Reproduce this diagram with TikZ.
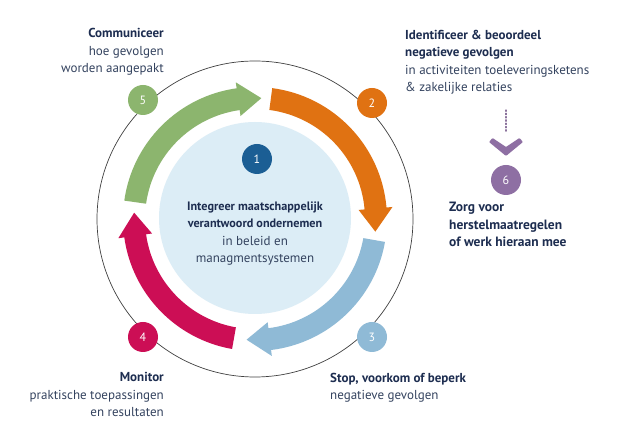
\documentclass[tikz,border=0pt]{standalone}
\usepackage{fontspec}
\setmainfont{PT Sans}
\usetikzlibrary{calc}
\definecolor{cgreen}{HTML}{8CB56E}
\definecolor{corange}{HTML}{E07212}
\definecolor{cblue}{HTML}{8FBAD6}
\definecolor{cred}{HTML}{CC0E55}
\definecolor{cpurple}{HTML}{8E6FA3}
\definecolor{cdisc}{HTML}{DCEDF6}
\definecolor{cnavy}{HTML}{1B5E94}
\definecolor{tbold}{HTML}{1D2D50}
\definecolor{treg}{HTML}{34435F}
\newcommand{\bandarrow}[3]{%
  \pgfmathsetmacro{\bb}{#3+11}%
  \fill[#1] ($(C)+(#2:132)$) arc[start angle=#2, end angle=\bb, radius=132]
    -- ($(C)+(\bb:138)$) -- ($(C)+(#3:121)$) -- ($(C)+(\bb:104)$)
    -- ($(C)+(\bb:110)$) arc[start angle=\bb, end angle=#2, radius=110] -- cycle;}
\begin{document}
\begin{tikzpicture}[x=1pt,y=1pt,
  numc/.style={circle, minimum size=30pt, inner sep=0pt, text=white, font=\fontsize{12}{12}\selectfont},
  txt/.style={inner sep=0pt, font=\fontsize{13}{17.5}\selectfont, text=treg}]
\useasboundingbox[fill=white] (0,0) rectangle (619,447);
\coordinate (C) at (255,228);
% outer thin circle
\draw[black!75, line width=0.7pt] (C) circle[radius=158];
% inner disc
\fill[cdisc] (255,229) circle[radius=96];
% band arrows
\bandarrow{cgreen}{172}{87}
\bandarrow{corange}{82.5}{-6}
\bandarrow{cblue}{-10}{-94}
\bandarrow{cred}{-100}{-183}
% number circles
\node[numc, fill=cnavy] (n1) at (257,288) {1};
\node[numc, fill=corange] (n2) at (372,344) {2};
\node[numc, fill=cblue] (n3) at (372,110) {3};
\node[numc, fill=cred] (n4) at (143,110) {4};
\node[numc, fill=cgreen] (n5) at (143,347) {5};
\node[numc, fill=cpurple] (n6) at (506,267) {6};
% purple dotted connector and chevron
\coordinate (dtop) at (506,337);
\coordinate (dbot) at (506,314);
\draw[cpurple!80!gray, line width=1.3pt, dotted, line cap=round] (dtop) -- (dbot);
\fill[cpurple, rounded corners=0.8pt] (489,305) -- (492.5,309) -- (506,300) -- (519.5,309) -- (523,305) -- (506,291) -- cycle;
% texts (anchored at the baseline of their last line)
\node[txt, align=right, anchor=base east] (t5) at (164,374)
  {{\color{tbold}\bfseries Communiceer}\\hoe gevolgen\\worden aangepakt};
\node[txt, align=left, anchor=base west] (t2) at (405,355)
  {{\color{tbold}\bfseries Identificeer \& beoordeel}\\{\color{tbold}\bfseries negatieve gevolgen}\\in activiteiten toeleveringsketens\\\& zakelijke relaties};
\node[txt, align=center, anchor=base] (t1) at (255,184)
  {{\color{tbold}\fontsize{12.2}{17.5}\selectfont\bfseries Integreer maatschappelijk}\\{\color{tbold}\fontsize{12.2}{17.5}\selectfont\bfseries verantwoord ondernemen}\\in beleid en\\managmentsystemen};
\node[txt, align=right, anchor=base east] (t4) at (164,30)
  {{\color{tbold}\bfseries Monitor}\\praktische toepassingen\\en resultaten};
\node[txt, align=left, anchor=base west] (t3) at (330,47)
  {{\color{tbold}\bfseries Stop, voorkom of beperk}\\negatieve gevolgen};
\node[txt, align=left, anchor=base west, text=tbold, font=\fontsize{13.5}{17.5}\selectfont\bfseries] (t6) at (449,200)
  {Zorg voor\\herstelmaatregelen\\of werk hieraan mee};
\end{tikzpicture}
\end{document}
